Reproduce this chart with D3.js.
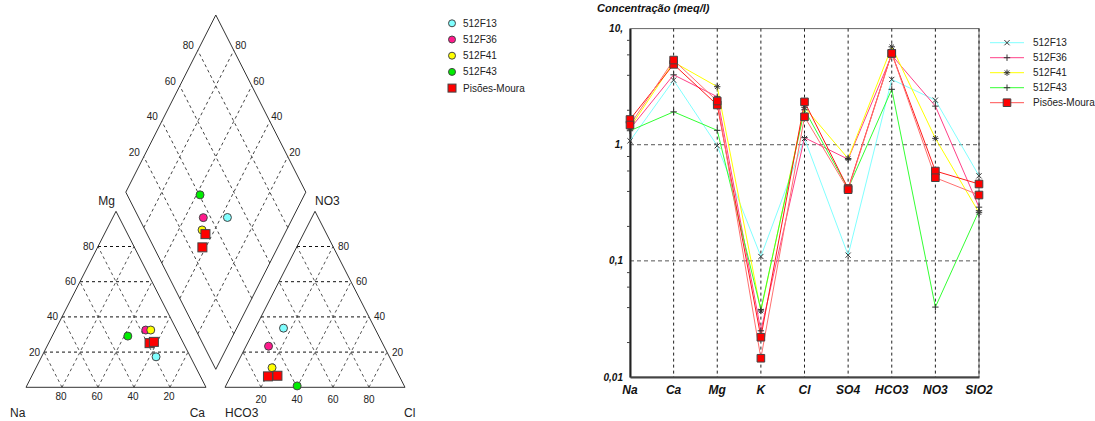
<!DOCTYPE html>
<html>
<head>
<meta charset="utf-8">
<script src="https://cdn.jsdelivr.net/npm/d3@7"></script>
<style>
  body { margin: 0; background: #fff; }
  svg { display: block; font-family: Arial, "Liberation Sans", sans-serif; }
</style>
</head>
<body>
<svg id="chart" width="1095" height="421"></svg>
<script>
// ions on the Schoeller axis (meq/l)
const ions = ['Na', 'Ca', 'Mg', 'K', 'Cl', 'SO4', 'HCO3', 'NO3', 'SIO2'];
const sampleNames = ['512F13', '512F36', '512F41', '512F43', 'Pisões-Moura', 'Pisões-Moura'];

// values, same order as ions
const f13 = [1.08, 3.6, 0.98, 0.109, 1.13, 0.112, 3.65, 2.42, 0.54];
const f36 = [1.37, 4.0, 2.59, 0.025, 1.15, 0.75, 5.9, 2.15, 0.29];
const f41 = [1.40, 5.15, 3.16, 0.037, 2.1, 0.76, 6.97, 1.135, 0.26];
const f43 = [1.32, 1.92, 1.33, 0.038, 2.0, 0.42, 3.0, 0.04, 0.27];
const pmA = [1.65, 4.92, 2.2, 0.022, 2.34, 0.42, 6.12, 0.594, 0.459];
const pmB = [1.48, 5.36, 2.38, 0.0145, 1.74, 0.41, 6.12, 0.52, 0.369];
const samples = [f13, f36, f41, f43, pmA, pmB];

const lineColors = ['#80ffff', '#ff4088', '#ffff00', '#33ff33', '#ff1a1a', '#ff7070'];
const pointFill = ['#80ffff', '#ff1a8c', '#ffff00', '#00ee00', '#ff0000', '#ff0000'];
const markers = ['x', '+', '*', '+', 'square', 'square'];

const legendNames = ['512F13', '512F36', '512F41', '512F43', 'Pisões-Moura'];
const legendLine = ['#80ffff', '#ff4088', '#ffff00', '#33ff33', '#ff5050'];

const gridPct = [0.2, 0.4, 0.6, 0.8];
const yMajor = [0.01, 0.1, 1, 10];
const yMajorLabels = ['0,01', '0,1', '1,', '10,'];
const yMinor = [0.02, 0.04, 0.06, 0.08, 0.2, 0.4, 0.6, 0.8, 2, 4, 6, 8];
const yDashed = [0.1, 1];

const svg = d3.select('#chart');

// ---------- Piper diagram ----------
const triY = d3.scaleLinear().domain([0, 1]).range([387.3, 211.3]);
const catX = d3.scaleLinear().domain([0, 1]).range([26, 206]);
const anX = d3.scaleLinear().domain([0, 1]).range([225, 405]);
const diaX = d3.scaleLinear().domain([-1, 1]).range([125.8, 305.8]);
const diaY = d3.scaleLinear().domain([0, 2]).range([369.3, 15]);

const catPt = (na, ca, mg) => [catX(ca + mg / 2), triY(mg)];
const anPt = (hco3, cl, no3) => [anX(cl + no3 / 2), triY(no3)];
const diaPt = (u, v) => [diaX(v - u), diaY(u + v)];

function cation(d) {
  const t = d[0] + d[1] + d[2];
  return {na: d[0] / t, ca: d[1] / t, mg: d[2] / t};
}
function anion(d) {
  const t = d[6] + d[4] + d[7];
  return {hco3: d[6] / t, cl: d[4] / t, no3: d[7] / t};
}

const piper = svg.append('g');
const grid = piper.append('g')
    .attr('fill', 'none')
    .attr('stroke-width', 1)
    .attr('stroke-dasharray', '3,3');

function seg(a, b, color) {
  grid.append('line')
      .attr('x1', a[0]).attr('y1', a[1])
      .attr('x2', b[0]).attr('y2', b[1])
      .attr('stroke', color);
}

gridPct.forEach(p => {
  // cation triangle
  seg(catPt(1 - p, 0, p), catPt(0, 1 - p, p), '#111');
  seg(catPt(1 - p, p, 0), catPt(0, p, 1 - p), '#555');
  seg(catPt(p, 1 - p, 0), catPt(p, 0, 1 - p), '#555');
  // anion triangle
  seg(anPt(1 - p, 0, p), anPt(0, 1 - p, p), '#111');
  seg(anPt(1 - p, p, 0), anPt(0, p, 1 - p), '#555');
  seg(anPt(p, 1 - p, 0), anPt(p, 0, 1 - p), '#555');
  // diamond
  seg(diaPt(p, 0), diaPt(p, 1), '#444');
  seg(diaPt(0, p), diaPt(1, p), '#444');
});

const outline = d3.line();
piper.append('path')
    .attr('d', outline([catPt(1, 0, 0), catPt(0, 1, 0), catPt(0, 0, 1)]) + 'Z')
    .attr('fill', 'none').attr('stroke', '#333');
piper.append('path')
    .attr('d', outline([anPt(1, 0, 0), anPt(0, 1, 0), anPt(0, 0, 1)]) + 'Z')
    .attr('fill', 'none').attr('stroke', '#333');
piper.append('path')
    .attr('d', outline([diaPt(0, 0), diaPt(1, 0), diaPt(1, 1), diaPt(0, 1)]) + 'Z')
    .attr('fill', 'none').attr('stroke', '#333');

const tickText = piper.append('g')
    .attr('font-size', 10)
    .attr('fill', '#222');

gridPct.forEach(p => {
  const lbl = String(Math.round(p * 100));
  let q = catPt(1 - p, 0, p);
  tickText.append('text').attr('x', q[0] - 4).attr('y', q[1] + 3.5)
      .attr('text-anchor', 'end').text(lbl);
  q = catPt(p, 1 - p, 0);
  tickText.append('text').attr('x', q[0] - 1).attr('y', q[1] + 13)
      .attr('text-anchor', 'middle').text(lbl);
  q = anPt(0, 1 - p, p);
  tickText.append('text').attr('x', q[0] + 5).attr('y', q[1] + 3.5)
      .attr('text-anchor', 'start').text(lbl);
  q = anPt(1 - p, p, 0);
  tickText.append('text').attr('x', q[0]).attr('y', q[1] + 16)
      .attr('text-anchor', 'middle').text(lbl);
  q = diaPt(1, p);
  tickText.append('text').attr('x', q[0] - 4).attr('y', q[1] - 1)
      .attr('text-anchor', 'end').text(lbl);
  q = diaPt(p, 1);
  tickText.append('text').attr('x', q[0] + 1.5).attr('y', q[1] - 1)
      .attr('text-anchor', 'start').text(lbl);
});

const cornerText = piper.append('g').attr('font-size', 12).attr('fill', '#222');
cornerText.append('text').attr('x', 10).attr('y', 417).text('Na');
cornerText.append('text').attr('x', 205).attr('y', 417).attr('text-anchor', 'end').text('Ca');
cornerText.append('text').attr('x', 225).attr('y', 417).text('HCO3');
cornerText.append('text').attr('x', 404).attr('y', 417).text('Cl');
cornerText.append('text').attr('x', 106.5).attr('y', 205).attr('text-anchor', 'middle').text('Mg');
cornerText.append('text').attr('x', 315).attr('y', 205).text('NO3');

function piperMark(g, i, p) {
  if (markers[i] === 'square') {
    g.append('rect')
        .attr('x', p[0] - 4.5).attr('y', p[1] - 4.5)
        .attr('width', 9).attr('height', 9)
        .attr('fill', pointFill[i]).attr('stroke', '#444');
  } else {
    g.append('circle')
        .attr('cx', p[0]).attr('cy', p[1]).attr('r', 4)
        .attr('fill', pointFill[i]).attr('stroke', '#444');
  }
}

const pts = piper.append('g');
samples.forEach((d, i) => {
  const c = cation(d);
  const a = anion(d);
  piperMark(pts, i, catPt(c.na, c.ca, c.mg));
  piperMark(pts, i, anPt(a.hco3, a.cl, a.no3));
  piperMark(pts, i, diaPt(1 - c.ca, 1 - a.hco3));
});

// Piper legend
const pLeg = svg.append('g').attr('font-size', 10).attr('fill', '#222');
legendNames.forEach((name, i) => {
  const y = 23.3 + i * 16.2;
  if (i === 4) {
    pLeg.append('rect').attr('x', 448).attr('y', y - 4).attr('width', 8).attr('height', 8)
        .attr('fill', '#ff0000').attr('stroke', '#444');
  } else {
    pLeg.append('circle').attr('cx', 452).attr('cy', y).attr('r', 3.5)
        .attr('fill', pointFill[i]).attr('stroke', '#444');
  }
  pLeg.append('text').attr('x', 463).attr('y', y + 3.5).text(name);
});

// ---------- Schoeller diagram ----------
const xS = d3.scalePoint().domain(ions).range([630, 979]);
const yS = d3.scaleLog().domain([0.01, 10]).range([377, 28.6]);

const sch = svg.append('g');

sch.append('rect')
    .attr('x', 630).attr('y', yS(10))
    .attr('width', 979 - 630).attr('height', yS(0.01) - yS(10))
    .attr('fill', 'none').attr('stroke', '#666');

sch.append('g').selectAll('line')
    .data(ions.slice(1))
    .join('line')
      .attr('x1', d => xS(d)).attr('x2', d => xS(d))
      .attr('y1', yS(10)).attr('y2', yS(0.01))
      .attr('stroke', '#222').attr('stroke-dasharray', '3,3');

sch.append('g').selectAll('line')
    .data(yDashed)
    .join('line')
      .attr('x1', 630).attr('x2', 979)
      .attr('y1', d => yS(d)).attr('y2', d => yS(d))
      .attr('stroke', '#555').attr('stroke-dasharray', '4,3');

const yAxis = sch.append('g')
    .attr('transform', 'translate(630,0)')
    .call(d3.axisLeft(yS).tickValues(yMinor).tickSize(3).tickSizeOuter(0).tickFormat(''));
yAxis.select('.domain').attr('stroke', '#222').attr('stroke-width', 2);
yAxis.selectAll('.tick line').attr('stroke', '#444');

const xAxis = sch.append('g')
    .attr('transform', `translate(0,${yS(0.01)})`)
    .call(d3.axisBottom(xS).tickSize(0).tickSizeOuter(0).tickFormat(''));
xAxis.select('.domain').attr('stroke', '#444').attr('stroke-width', 2);

sch.append('g').selectAll('text')
    .data(yMajor)
    .join('text')
      .attr('x', 623).attr('y', d => yS(d) + 3.5)
      .attr('text-anchor', 'end')
      .attr('font-size', 10).attr('font-weight', 'bold').attr('font-style', 'italic')
      .attr('fill', '#111')
      .text((d, i) => yMajorLabels[i]);

sch.append('g').selectAll('text')
    .data(ions)
    .join('text')
      .attr('x', d => xS(d)).attr('y', 394)
      .attr('text-anchor', 'middle')
      .attr('font-size', 12).attr('font-weight', 'bold').attr('font-style', 'italic')
      .attr('fill', '#111')
      .text(d => d);

svg.append('text')
    .attr('x', 597).attr('y', 12)
    .attr('font-size', 11).attr('font-weight', 'bold').attr('font-style', 'italic')
    .attr('fill', '#111')
    .text('Concentração (meq/l)');

const line = d3.line()
    .x((d, i) => xS(ions[i]))
    .y(d => yS(d));

sch.append('g').selectAll('path')
    .data(samples)
    .join('path')
      .attr('d', line)
      .attr('fill', 'none')
      .attr('stroke', (d, i) => lineColors[i])
      .attr('stroke-width', 1);

function markerPath(type, r) {
  if (type === 'x') return `M${-r},${-r}L${r},${r}M${-r},${r}L${r},${-r}`;
  if (type === '+') return `M${-r},0L${r},0M0,${-r}L0,${r}`;
  if (type === '*') {
    const s = r * 0.7;
    return `M${-r},0L${r},0M0,${-r}L0,${r}M${-s},${-s}L${s},${s}M${-s},${s}L${s},${-s}`;
  }
  return `M${-r},${-r}H${r}V${r}H${-r}Z`;
}

function drawMarker(g, type, x, y) {
  if (type === 'square') {
    g.append('path')
        .attr('transform', `translate(${x},${y})`)
        .attr('d', markerPath('square', 3.8))
        .attr('fill', '#ff0000').attr('stroke', '#444');
  } else {
    g.append('path')
        .attr('transform', `translate(${x},${y})`)
        .attr('d', markerPath(type, type === 'x' ? 2.6 : 3.2))
        .attr('fill', 'none').attr('stroke', '#333');
  }
}

const marks = sch.append('g');
samples.forEach((d, i) => {
  d.forEach((v, j) => drawMarker(marks, markers[i], xS(ions[j]), yS(v)));
});

// Schoeller legend
const sLeg = svg.append('g').attr('font-size', 10).attr('fill', '#222');
legendNames.forEach((name, i) => {
  const y = 42.7 + i * 15;
  sLeg.append('line').attr('x1', 990).attr('x2', 1024).attr('y1', y).attr('y2', y)
      .attr('stroke', legendLine[i]);
  drawMarker(sLeg, markers[i], 1007, y);
  sLeg.append('text').attr('x', 1033).attr('y', y + 3.5).text(name);
});
</script>
</body>
</html>
